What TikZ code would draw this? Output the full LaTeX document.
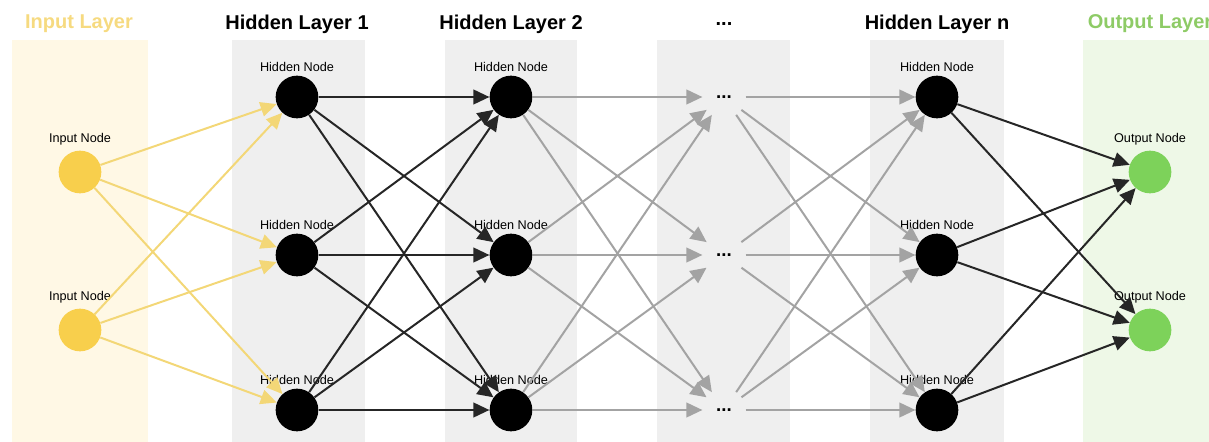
\documentclass[tikz,border=0pt]{standalone}
\usepackage{fontspec}
\setmainfont{Liberation Sans}
\usetikzlibrary{arrows.meta}

\definecolor{inbg}{HTML}{FFF8E5}
\definecolor{hidbg}{HTML}{EFEFEF}
\definecolor{outbg}{HTML}{EEF8E7}
\definecolor{intitle}{HTML}{F6DA80}
\definecolor{outtitle}{HTML}{8ECB66}
\definecolor{inyellow}{HTML}{F8CF4C}
\definecolor{outgreen}{HTML}{7DD25A}
\definecolor{yellowline}{HTML}{F3D777}
\definecolor{darkline}{HTML}{262626}
\definecolor{greyline}{HTML}{A3A3A3}

\begin{document}
\begin{tikzpicture}[x=0.75pt, y=-0.75pt,
    neuron/.style={circle, minimum size=32pt, inner sep=0pt},
    nodelabel/.style={font=\fontsize{9.5}{10}\selectfont, inner sep=1pt},
    layertitle/.style={font=\fontsize{15}{17}\selectfont\bfseries},
    link/.style={line width=1.5pt, -{Triangle[length=12pt, width=11pt]}}]
    \useasboundingbox (0,0) rectangle (1209,442);

    % layer backgrounds
    \fill[inbg] (12,40) rectangle (148,442);
    \fill[hidbg] (232,40) rectangle (365,442);
    \fill[hidbg] (445,40) rectangle (577,442);
    \fill[hidbg] (657,40) rectangle (790,442);
    \fill[hidbg] (870,40) rectangle (1004,442);
    \fill[outbg] (1083,40) rectangle (1209,442);

    % titles
    \node[layertitle, text=intitle] (tin) at (79,24) {Input Layer};
    \node[layertitle] (th1) at (297,24) {Hidden Layer 1};
    \node[layertitle] (th2) at (511,24) {Hidden Layer 2};
    \node[layertitle] (tdots) at (724,24) {...};
    \node[layertitle] (thn) at (937,24) {Hidden Layer n};
    \node[layertitle, text=outtitle] (tout) at (1150,24) {Output Layer};

    % nodes
    \foreach \i/\y in {1/172, 2/330} {
        \node[neuron, fill=inyellow, label={[nodelabel, label distance=3pt]above:Input Node}] (in\i) at (80,\y) {};
        \node[neuron, fill=outgreen, label={[nodelabel, label distance=3pt]above:Output Node}] (out\i) at (1150,\y) {};
    }
    \foreach \i/\y in {1/97, 2/255, 3/410} {
        \node[neuron, fill=black, label={[nodelabel, label distance=1.5pt]above:Hidden Node}] (ha\i) at (297,\y) {};
        \node[neuron, fill=black, label={[nodelabel, label distance=1.5pt]above:Hidden Node}] (hb\i) at (511,\y) {};
        \node[neuron, font=\fontsize{14}{15}\selectfont\bfseries] (hd\i) at (724,\y) {...};
        \node[neuron, fill=black, label={[nodelabel, label distance=1.5pt]above:Hidden Node}] (hn\i) at (937,\y) {};
    }

    % connections
    \foreach \i in {1,2}
        \foreach \j in {1,2,3}
            \draw[link, yellowline] (in\i) -- (ha\j);
    \foreach \i in {1,2,3}
        \foreach \j in {1,2,3} {
            \draw[link, darkline] (ha\i) -- (hb\j);
            \draw[link, greyline] (hb\i) -- (hd\j);
            \draw[link, greyline] (hd\i) -- (hn\j);
        }
    \foreach \i in {1,2,3}
        \foreach \j in {1,2}
            \draw[link, darkline] (hn\i) -- (out\j);
\end{tikzpicture}
\end{document}
